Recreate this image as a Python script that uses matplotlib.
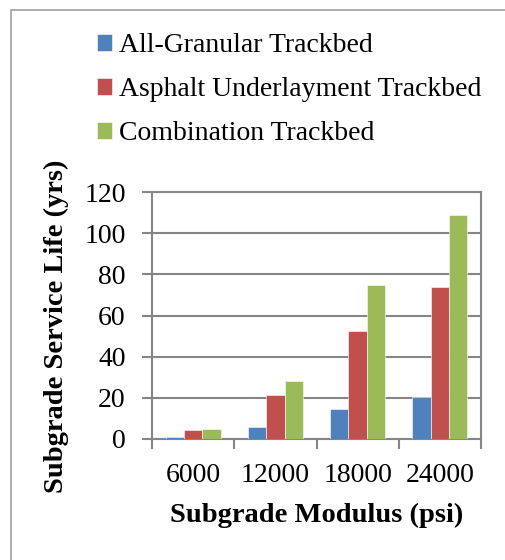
import matplotlib
matplotlib.use('Agg')
import matplotlib.pyplot as plt
from matplotlib.patches import Rectangle
import numpy as np

# chart data
moduli = ['6000', '12000', '18000', '24000']
series_names = ['All-Granular Trackbed', 'Asphalt Underlayment Trackbed', 'Combination Trackbed']
granular = [1.0, 5.7, 14.4, 20.4]
asphalt = [4.4, 21.2, 52.5, 74.0]
combination = [5.0, 28.3, 75.0, 108.7]
y_ticks = [0, 20, 40, 60, 80, 100, 120]

colors = ['#4F81BD', '#C0504D', '#9BBB59']
grey = '#868686'
plt.rcParams['font.family'] = ['Liberation Serif', 'DejaVu Serif']

fig = plt.figure(figsize=(5.05, 5.6), dpi=100)
ax = fig.add_axes([152/505, 1 - 439/560, (481 - 152)/505, (439 - 192)/560])

# outer chart border (right and bottom edges fall outside the image)
fig.patches.append(Rectangle((11/505, -0.1), 1.0, 1.1 - 10/560,
                             transform=fig.transFigure, fill=False,
                             edgecolor='#a0a0a0', linewidth=1.2))

x = np.arange(len(moduli))
width = 1/4.5
bars = []
for i, vals in enumerate([granular, asphalt, combination]):
	b = ax.bar(x + (i - 1)*width, vals, width, color=colors[i],
			   edgecolor='white', linewidth=0.4, zorder=3)
	bars.append(b)

ax.set_xlim(-0.5, len(moduli) - 0.5)
ax.set_ylim(0, 120)
ax.set_yticks(y_ticks)
ax.set_yticklabels([str(t) for t in y_ticks], fontsize=20)
ax.set_xticks(x)
ax.set_xticklabels(moduli, fontsize=20)
ax.set_xticks(np.arange(len(moduli) + 1) - 0.5, minor=True)
ax.tick_params(axis='x', which='major', length=0, pad=17)
ax.tick_params(axis='x', which='minor', length=7, color=grey, width=1.5)
ax.tick_params(axis='y', length=7, color=grey, width=1.5, pad=12)
ax.grid(axis='y', color=grey, linewidth=1.5, zorder=0)
for side in ['left', 'bottom', 'top', 'right']:
	ax.spines[side].set_color(grey)
	ax.spines[side].set_linewidth(1.5)

ax.set_ylabel('Subgrade Service Life (yrs)', fontsize=20.5, fontweight='bold', labelpad=11)
ax.yaxis.label.set_y(0.457)  # excel puts it a bit below the middle
ax.set_xlabel('Subgrade Modulus (psi)', fontsize=20.5, fontweight='bold', labelpad=11)

fig.legend([b[0] for b in bars], series_names, loc='upper left',
		   bbox_to_anchor=(86/505, 1 - 22/560), frameon=False, fontsize=20,
		   handlelength=0.55, handleheight=0.55, handletextpad=0.25,
		   labelspacing=0.69, borderaxespad=0)

fig.savefig('out.png', dpi=100)
